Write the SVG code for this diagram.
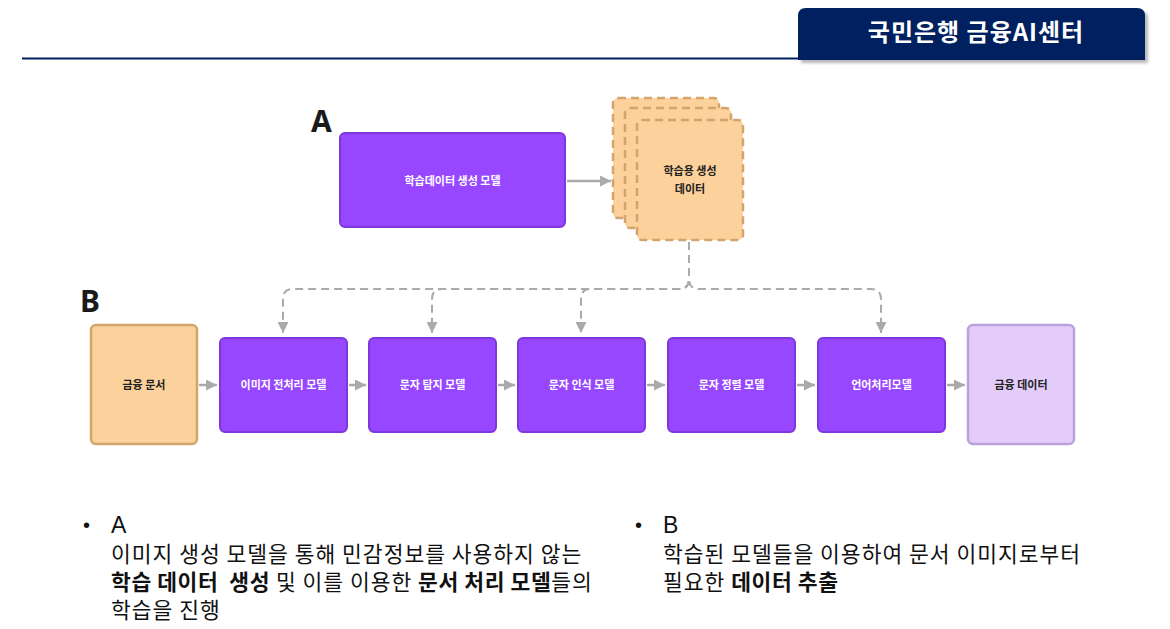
<svg xmlns="http://www.w3.org/2000/svg" width="1170" height="629" viewBox="0 0 1170 629">
<style>
.ko{font-family:"Noto Sans CJK KR","Noto Sans",sans-serif}
.proc rect{fill:#9747FF;stroke:#7C38DC;stroke-width:2}
.proc text{fill:#FFFFFF;font-size:11px;font-weight:700;text-anchor:middle}
.src rect{fill:#FCD19C;stroke:#D3A56E;stroke-width:2.5}
.out rect{fill:#E3CCFA;stroke:#BBA1D9;stroke-width:2.5}
.dark{fill:#222222;font-size:11px;font-weight:700;text-anchor:middle}
.card{fill:#FCD19C;stroke:#D3A56E;stroke-width:2.5;stroke-dasharray:8 5}
.solid{fill:none;stroke:#AAAAAA;stroke-width:2.5}
.dash{fill:none;stroke:#AAAAAA;stroke-width:2;stroke-dasharray:8 5}
.body{font-size:21.5px;fill:#111111;letter-spacing:1px}
.b{font-weight:700;letter-spacing:0.6px}
.big{font-family:"Noto Sans","Inter",sans-serif;font-weight:700;font-size:30px;fill:#1a1a1a}
</style>
<defs>
<marker id="ah" markerUnits="userSpaceOnUse" markerWidth="11" markerHeight="11" refX="11" refY="5.5" orient="auto">
<path d="M0,0 L11,5.5 L0,11 Z" fill="#AAAAAA"/>
</marker>
<filter id="sh" x="-5%" y="-20%" width="110%" height="150%">
<feGaussianBlur stdDeviation="1.5"/>
</filter>
</defs>
<rect width="1170" height="629" fill="#FFFFFF"/>

<g id="header">
<line x1="22" y1="58.5" x2="800" y2="58.5" stroke="#002060" stroke-width="2"/>
<path d="M801,63 V19 Q801,11 809,11 H1140 Q1148,11 1148,19 V63 Z" fill="#888888" opacity="0.6" filter="url(#sh)"/>
<path d="M798,60 V16 Q798,8 806,8 H1137 Q1145,8 1145,16 V60 Z" fill="#002060"/>
<text x="976" y="41" class="ko" font-size="24" font-weight="700" fill="#FFFFFF" text-anchor="middle" letter-spacing="1">국민은행 금융AI센터</text>
</g>

<g id="labelA"><text x="311" y="132" class="big">A</text></g>
<g id="labelB"><text x="80" y="312" class="big">B</text></g>

<g id="genModel" class="proc">
<rect x="340" y="133" width="225" height="94" rx="5"/>
<text x="452.5" y="185" class="ko">학습데이터 생성 모델</text>
</g>

<g id="genData">
<rect x="613" y="98" width="106" height="120" rx="5" class="card"/>
<rect x="625" y="108" width="106" height="120" rx="5" class="card"/>
<rect x="637" y="120" width="106" height="120" rx="5" class="card"/>
<text x="690" y="175" class="ko dark">학습용 생성</text>
<text x="690" y="193" class="ko dark">데이터</text>
</g>

<g id="finDoc" class="src">
<rect x="91" y="325" width="106" height="119" rx="5"/>
<text x="144" y="389" class="ko dark">금융 문서</text>
</g>

<g id="preproc" class="proc">
<rect x="220" y="338" width="127" height="94" rx="5"/>
<text x="283.5" y="389" class="ko">이미지 전처리 모델</text>
</g>
<g id="detect" class="proc">
<rect x="369" y="338" width="127" height="94" rx="5"/>
<text x="432.5" y="389" class="ko">문자 탐지 모델</text>
</g>
<g id="recog" class="proc">
<rect x="518" y="338" width="127" height="94" rx="5"/>
<text x="581.5" y="389" class="ko">문자 인식 모델</text>
</g>
<g id="align" class="proc">
<rect x="668" y="338" width="127" height="94" rx="5"/>
<text x="731.5" y="389" class="ko">문자 정렬 모델</text>
</g>
<g id="nlp" class="proc">
<rect x="818" y="338" width="127" height="94" rx="5"/>
<text x="881.5" y="389" class="ko">언어처리모델</text>
</g>

<g id="finData" class="out">
<rect x="968" y="325" width="106" height="119" rx="5"/>
<text x="1021" y="389" class="ko dark">금융 데이터</text>
</g>

<g id="connectors">
<line x1="567" y1="181" x2="611" y2="181" class="solid" marker-end="url(#ah)"/>
<line x1="199" y1="385" x2="217" y2="385" class="solid" marker-end="url(#ah)"/>
<line x1="349" y1="385" x2="366" y2="385" class="solid" marker-end="url(#ah)"/>
<line x1="498" y1="385" x2="515" y2="385" class="solid" marker-end="url(#ah)"/>
<line x1="647" y1="385" x2="665" y2="385" class="solid" marker-end="url(#ah)"/>
<line x1="797" y1="385" x2="815" y2="385" class="solid" marker-end="url(#ah)"/>
<line x1="947" y1="385" x2="965" y2="385" class="solid" marker-end="url(#ah)"/>
<path d="M689,242 V279 Q689,289 679,289 H293 Q283,289 283,299 V333" class="dash" marker-end="url(#ah)"/>
<path d="M689,242 V279 Q689,289 679,289 H442 Q432,289 432,299 V333" class="dash" marker-end="url(#ah)"/>
<path d="M689,242 V279 Q689,289 679,289 H591 Q581,289 581,299 V333" class="dash" marker-end="url(#ah)"/>
<path d="M689,242 V279 Q689,289 699,289 H871 Q881,289 881,299 V333" class="dash" marker-end="url(#ah)"/>
</g>

<g id="notes" class="ko body">
<text x="83" y="532" font-family="Liberation Sans,sans-serif" font-size="20" letter-spacing="0">•</text>
<text x="111" y="533" font-family="Liberation Sans,sans-serif" font-size="23" letter-spacing="0">A</text>
<text x="111" y="562">이미지 생성 모델을 통해 민감정보를 사용하지 않는</text>
<text x="111" y="590" xml:space="preserve"><tspan class="b">학습 데이터  생성</tspan> 및 이를 이용한 <tspan class="b">문서 처리 모델</tspan>들의</text>
<text x="111" y="618">학습을 진행</text>
<text x="635" y="532" font-family="Liberation Sans,sans-serif" font-size="20" letter-spacing="0">•</text>
<text x="663" y="533" font-family="Liberation Sans,sans-serif" font-size="23" letter-spacing="0">B</text>
<text x="663" y="562">학습된 모델들을 이용하여 문서 이미지로부터</text>
<text x="663" y="590">필요한 <tspan class="b">데이터 추출</tspan></text>
</g>
</svg>
